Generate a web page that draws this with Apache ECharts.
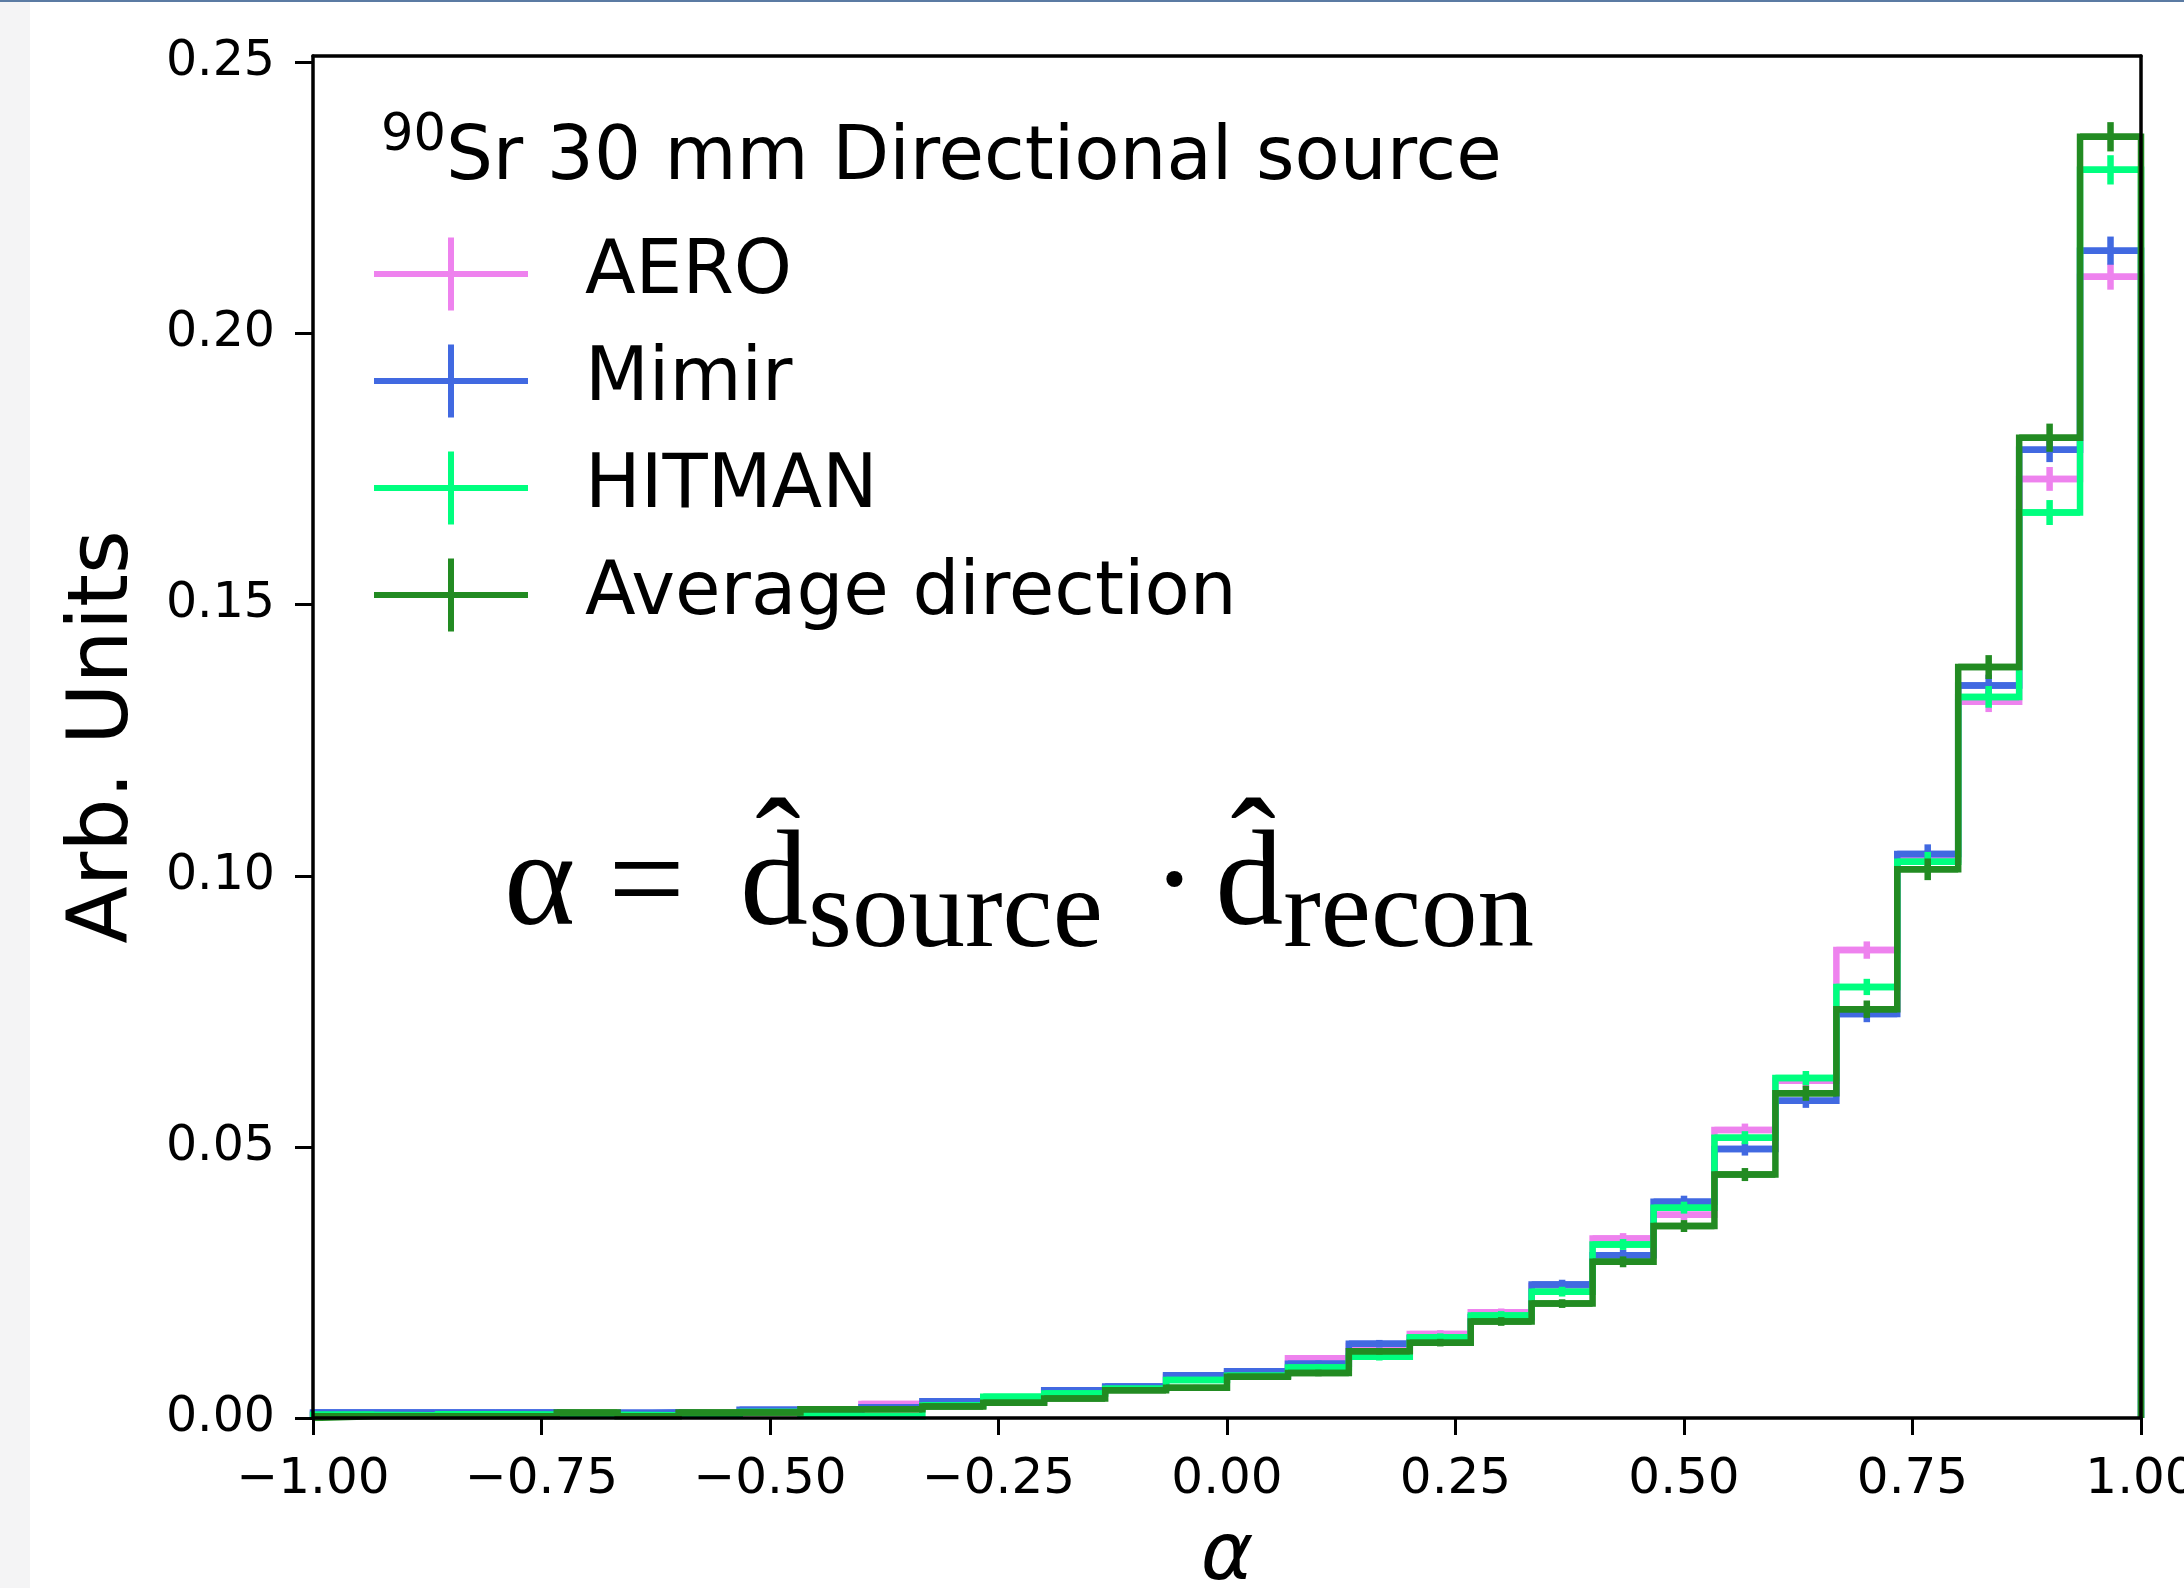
<!DOCTYPE html>
<html>
<head>
<meta charset="utf-8">
<script src="https://cdn.jsdelivr.net/npm/echarts@6/dist/echarts.min.js"></script>
<style>
html,body{margin:0;padding:0;background:#fff;overflow:hidden;}
#chart{width:2184px;height:1588px;}
</style>
</head>
<body>
<div id="chart"></div>
<script>
// ---- data ----
const binEdges = [-1.0000,-0.9333,-0.8667,-0.8000,-0.7333,-0.6667,-0.6000,-0.5333,-0.4667,-0.4000,-0.3333,-0.2667,-0.2000,-0.1333,-0.0667,0.0000,0.0667,0.1333,0.2000,0.2667,0.3333,0.4000,0.4667,0.5333,0.6000,0.6667,0.7333,0.8000,0.8667,0.9333,1.0000];

const aeroVals = [0.0008,0.0007,0.0008,0.0007,0.0007,0.0008,0.0009,0.0012,0.0016,0.0026,0.0028,0.0031,0.0049,0.0057,0.0076,0.0082,0.0110,0.0133,0.0155,0.0195,0.0243,0.0331,0.0375,0.0531,0.0622,0.0863,0.1030,0.1321,0.1732,0.2105];
const aeroErr  = [0.0002,0.0002,0.0002,0.0002,0.0002,0.0002,0.0002,0.0002,0.0002,0.0003,0.0003,0.0003,0.0004,0.0004,0.0005,0.0005,0.0006,0.0006,0.0007,0.0007,0.0008,0.0010,0.0010,0.0012,0.0013,0.0016,0.0017,0.0019,0.0022,0.0024];

const mimirVals = [0.0010,0.0010,0.0010,0.0010,0.0007,0.0010,0.0008,0.0015,0.0014,0.0020,0.0031,0.0036,0.0051,0.0058,0.0079,0.0086,0.0100,0.0137,0.0147,0.0186,0.0246,0.0300,0.0399,0.0496,0.0585,0.0745,0.1040,0.1351,0.1786,0.2153];
const mimirErr  = [0.0002,0.0002,0.0002,0.0002,0.0002,0.0002,0.0002,0.0002,0.0002,0.0003,0.0003,0.0004,0.0004,0.0005,0.0005,0.0005,0.0006,0.0007,0.0007,0.0008,0.0009,0.0010,0.0011,0.0012,0.0013,0.0015,0.0018,0.0020,0.0023,0.0026];

const hitmanVals = [0.0006,0.0005,0.0007,0.0006,0.0006,0.0005,0.0007,0.0011,0.0004,0.0003,0.0023,0.0039,0.0045,0.0054,0.0070,0.0078,0.0093,0.0113,0.0149,0.0189,0.0233,0.0320,0.0388,0.0517,0.0627,0.0795,0.1026,0.1330,0.1670,0.2302];
const hitmanErr  = [0.0002,0.0002,0.0002,0.0002,0.0002,0.0002,0.0002,0.0002,0.0002,0.0002,0.0003,0.0004,0.0004,0.0005,0.0005,0.0005,0.0006,0.0007,0.0007,0.0008,0.0009,0.0010,0.0011,0.0012,0.0013,0.0015,0.0018,0.0020,0.0023,0.0027];

const avgVals = [0.0003,0.0003,0.0003,0.0003,0.0010,0.0003,0.0010,0.0010,0.0016,0.0016,0.0021,0.0028,0.0036,0.0051,0.0056,0.0076,0.0083,0.0123,0.0139,0.0178,0.0211,0.0288,0.0354,0.0449,0.0599,0.0754,0.1012,0.1385,0.1808,0.2363];
const avgErr  = [0.0001,0.0001,0.0001,0.0001,0.0002,0.0001,0.0002,0.0002,0.0002,0.0002,0.0003,0.0003,0.0004,0.0004,0.0005,0.0005,0.0006,0.0006,0.0007,0.0008,0.0008,0.0010,0.0011,0.0012,0.0014,0.0016,0.0020,0.0022,0.0026,0.0027];

const xTicks = [-1.00,-0.75,-0.50,-0.25,0.00,0.25,0.50,0.75,1.00];
const yTicks = [0.00,0.05,0.10,0.15,0.20,0.25];

const seriesNames = ['AERO','Mimir','HITMAN','Average direction'];
const seriesColors = ['#ee82ee','#4169e1','#00ff7f','#228b22'];
const seriesVals = [aeroVals, mimirVals, hitmanVals, avgVals];
const seriesErrs = [aeroErr, mimirErr, hitmanErr, avgErr];

// ---- build ----
function stepData(vals){
  const d = [[binEdges[0], 0]];
  for (let i = 0; i < vals.length; i++){
    d.push([binEdges[i], vals[i]]);
    d.push([binEdges[i+1], vals[i]]);
  }
  d.push([binEdges[binEdges.length-1], 0]);
  return d;
}
function errData(vals, errs){
  return vals.map((v,i)=>[(binEdges[i]+binEdges[i+1])/2, v, errs[i], binEdges[i], binEdges[i+1]]);
}

const LW = 6.5;
const series = [];
seriesNames.forEach((name, k)=>{
  series.push({
    name: name, type: 'line', data: stepData(seriesVals[k]),
    showSymbol: false, symbol: 'none', animation: false,
    lineStyle: {color: seriesColors[k], width: LW, join: 'miter'},
    itemStyle: {color: seriesColors[k]},
    clip: true, z: 2 + k
  });
  series.push({
    name: name, type: 'custom', data: errData(seriesVals[k], seriesErrs[k]),
    animation: false, clip: true, z: 2 + k,
    itemStyle: {color: seriesColors[k]},
    renderItem: function(params, api){
      const xc = api.value(0), y = api.value(1), e = api.value(2);
      const pL = api.coord([api.value(3), y]);
      const pR = api.coord([api.value(4), y]);
      const pT = api.coord([xc, y + e]);
      const pB = api.coord([xc, y - e]);
      const st = {stroke: seriesColors[k], lineWidth: LW, fill: null};
      return {type:'group', children:[
        {type:'line', shape:{x1:pL[0], y1:pL[1], x2:pR[0], y2:pR[1]}, style: st},
        {type:'line', shape:{x1:pT[0], y1:pT[1], x2:pB[0], y2:pB[1]}, style: st}
      ]};
    }
  });
});

const fmtX = v => (v < 0 ? '\u2212' : '') + Math.abs(v).toFixed(2);
const crossIcon = 'path://M0,33.5H74V0H80V33.5H154V39.5H80V73H74V39.5H0Z';

const chart = echarts.init(document.getElementById('chart'), null, {renderer:'canvas'});
chart.setOption({
  animation: false,
  backgroundColor: '#ffffff',
  textStyle: {fontFamily: 'DejaVu Sans'},
  grid: {left: 313, right: 43, top: 56, bottom: 170, containLabel: false, outerBoundsMode: 'none'},
  title: {
    left: 381, top: 111, padding: 0,
    text: '{sup|90}{main|Sr 30 mm Directional source}',
    textStyle: {
      fontWeight: 'normal',
      rich: {
        sup: {fontFamily:'DejaVu Sans', fontWeight:'normal', fontSize: 51, color:'#000', verticalAlign:'top', lineHeight: 56},
        main: {fontFamily:'DejaVu Sans', fontWeight:'normal', fontSize: 74, color:'#000', verticalAlign:'bottom', lineHeight: 86}
      }
    }
  },
  legend: {
    orient: 'vertical', left: 374, top: 237, padding: 0,
    itemWidth: 154, itemHeight: 73, itemGap: 33,
    data: seriesNames.map((n,k)=>({name:n, icon: crossIcon, itemStyle:{color: seriesColors[k]}})),
    textStyle: {fontFamily:'DejaVu Sans', fontSize: 74, color:'#000', padding:[0,0,0,52]},
    selectedMode: false
  },
  xAxis: [{
    type: 'value', min: -1, max: 1, position: 'bottom', z: 10,
    name: 'α', nameLocation: 'middle', nameGap: 100,
    nameTextStyle: {fontFamily:'DejaVu Sans', fontStyle:'italic', fontSize: 80, color:'#000'},
    axisLine: {show: true, onZero: false, lineStyle: {color:'#000', width: 3.5}},
    axisTick: {show: true, inside: false, length: 17, customValues: xTicks, lineStyle:{color:'#000', width: 3}},
    axisLabel: {show: true, margin: 37, customValues: xTicks, formatter: fmtX,
      fontFamily:'DejaVu Sans', fontSize: 50, color:'#000'},
    splitLine: {show: false}
  },{
    type: 'value', min: -1, max: 1, position: 'top', z: 10,
    axisLine: {show: true, onZero: false, lineStyle: {color:'#000', width: 3.5}},
    axisTick: {show: false}, axisLabel: {show: false}, splitLine: {show: false}
  }],
  yAxis: [{
    type: 'value', min: 0, max: 0.2512, position: 'left', z: 10,
    name: 'Arb. Units', nameLocation: 'middle', nameGap: 166,
    nameTextStyle: {fontFamily:'DejaVu Sans', fontSize: 84, color:'#000'},
    axisLine: {show: true, onZero: false, lineStyle: {color:'#000', width: 3.5}},
    axisTick: {show: true, inside: false, length: 18, customValues: yTicks, lineStyle:{color:'#000', width: 3}},
    axisLabel: {show: true, margin: 38, customValues: yTicks, formatter: v => v.toFixed(2),
      fontFamily:'DejaVu Sans', fontSize: 49, color:'#000'},
    splitLine: {show: false}
  },{
    type: 'value', min: 0, max: 0.2512, position: 'right', z: 10,
    axisLine: {show: true, onZero: false, lineStyle: {color:'#000', width: 3.5}},
    axisTick: {show: false}, axisLabel: {show: false}, splitLine: {show: false}
  }],
  graphic: [
    {type:'rect', left: 0, top: 0, z: -10, shape:{width: 30, height: 1588}, style:{fill:'#f4f4f5'}},
    {type:'rect', left: 0, top: 0, z: 50, shape:{width: 2184, height: 2}, style:{fill:'#5b7ba3'}},
    {type:'text', left: 504, top: 820, z: 20,
      style: {
        text: '{m|α}{eq|=}{m|d\u0302}{s|source}{dot|·}{m|d\u0302}{s|recon}',
        rich: {
          m: {fontFamily:'Liberation Serif', fontSize: 136, color:'#000', lineHeight: 153, verticalAlign:'top'},
          eq: {fontFamily:'Liberation Serif', fontSize: 136, color:'#000', lineHeight: 153, verticalAlign:'top', padding:[0,55,0,33]},
          dot: {fontFamily:'Liberation Serif', fontSize: 136, color:'#000', lineHeight: 153, verticalAlign:'top', padding:[0,18,0,49]},
          s: {fontFamily:'Liberation Serif', fontSize: 113, color:'#000', lineHeight: 120, verticalAlign:'bottom'}
        }
      }
    }
  ],
  series: series
});
</script>
</body>
</html>
